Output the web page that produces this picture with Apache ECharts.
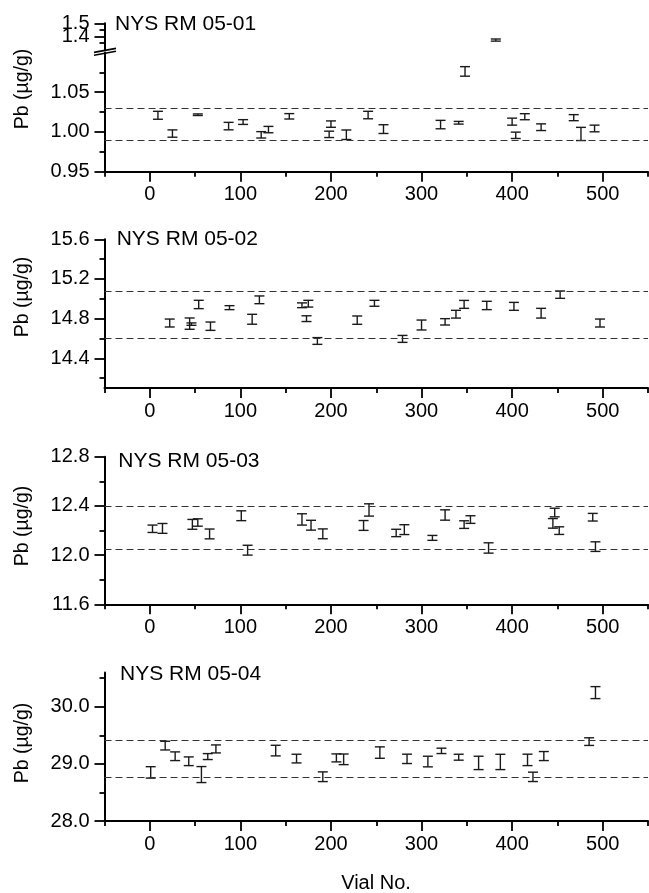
<!DOCTYPE html>
<html lang="en">
<head>
    <meta charset="UTF-8">
    <title>Pb in NYS RM 05 vials</title>
    <style>
        *{
            margin: 0;
            padding: 0;
        }
        #main{
            width: 649px;
            height: 893px;
            background: #fff;
        }
    </style>
</head>
<body>
<div id="main"></div>

<script src="https://cdn.jsdelivr.net/npm/echarts@6.0.0/dist/echarts.min.js"></script>
<script>
    // vial number axis
    let xMin = -50, xMax = 550;
    let xMajor = [0, 100, 200, 300, 400, 500];
    let xMinor = [-50, 50, 150, 250, 350, 450, 550];

    // NYS RM 05-01
    let vial1 = [9, 25, 53, 87, 103, 123, 131, 154, 200, 198, 217, 241, 258, 321, 341, 348, 382, 400, 404, 414, 432, 468, 476, 491];
    let pb1 = [1.021, 0.998, 1.0217, 1.0074, 1.0125, 0.9964, 1.003, 1.0197, 1.0099, 0.997, 0.9965, 1.0213, 1.0036, 1.0093, 1.0116, 1.0762, 1.373, 1.013, 0.9958, 1.0192, 1.006, 1.018, 0.9975, 1.0044];
    let sd1 = [0.005, 0.0046, 0.001, 0.0047, 0.003, 0.004, 0.004, 0.0034, 0.004, 0.004, 0.006, 0.0047, 0.0055, 0.0053, 0.0017, 0.006, 0.008, 0.0044, 0.004, 0.0038, 0.0042, 0.0038, 0.0083, 0.0042];
    let limits1 = [0.991, 1.026];
    let yLabels1 = ['0.95', '1.00', '1.05', '1.4', '1.5'];
    let yMinor1 = [0.975, 1.025, 1.075, 1.35, 1.45];

    // NYS RM 05-02
    let vial2 = [22, 44, 46, 54, 67, 88, 113, 121, 168, 175, 173, 185, 229, 248, 279, 300, 326, 338, 347, 372, 402, 432, 453, 497];
    let pb2 = [14.756, 14.75, 14.745, 14.943, 14.724, 14.911, 14.794, 14.99, 14.935, 14.951, 14.80, 14.575, 14.785, 14.955, 14.596, 14.736, 14.768, 14.845, 14.944, 14.933, 14.924, 14.855, 15.042, 14.756];
    let sd2 = [0.04, 0.057, 0.012, 0.042, 0.042, 0.02, 0.05, 0.039, 0.024, 0.034, 0.029, 0.034, 0.042, 0.03, 0.035, 0.05, 0.032, 0.039, 0.04, 0.042, 0.04, 0.049, 0.037, 0.04];
    let limits2 = [14.602, 15.079];
    let yLabels2 = ['14.4', '14.8', '15.2', '15.6'];
    let yMinor2 = [14.2, 14.6, 15.0, 15.4];

    // NYS RM 05-03
    let vial3 = [3, 14, 47, 53, 66, 101, 108, 168, 178, 191, 236, 242, 272, 281, 312, 326, 347, 354, 374, 445, 447, 452, 489, 492];
    let pb3 = [12.214, 12.217, 12.25, 12.265, 12.172, 12.32, 12.04, 12.29, 12.243, 12.173, 12.241, 12.367, 12.18, 12.207, 12.14, 12.326, 12.248, 12.289, 12.058, 12.258, 12.346, 12.199, 12.308, 12.069];
    let sd3 = [0.03, 0.04, 0.04, 0.03, 0.04, 0.04, 0.04, 0.046, 0.04, 0.04, 0.04, 0.05, 0.03, 0.04, 0.02, 0.042, 0.031, 0.031, 0.042, 0.039, 0.035, 0.031, 0.031, 0.039];
    let limits3 = [12.055, 12.402];
    let yLabels3 = ['11.6', '12.0', '12.4', '12.8'];
    let yMinor3 = [11.8, 12.2, 12.6];

    // NYS RM 05-04
    let vial4 = [1, 17, 28, 43, 57, 64, 73, 139, 162, 191, 206, 214, 254, 284, 307, 322, 341, 363, 387, 417, 423, 435, 485, 492];
    let pb4 = [28.851, 29.32, 29.134, 29.046, 28.813, 29.128, 29.262, 29.233, 29.093, 28.775, 29.105, 29.08, 29.198, 29.088, 29.041, 29.228, 29.117, 29.017, 29.034, 29.07, 28.773, 29.137, 29.39, 30.248];
    let sd4 = [0.1, 0.076, 0.076, 0.076, 0.14, 0.052, 0.07, 0.093, 0.076, 0.085, 0.07, 0.093, 0.1, 0.082, 0.093, 0.047, 0.052, 0.117, 0.134, 0.1, 0.082, 0.079, 0.067, 0.105];
    let limits4 = [28.765, 29.405];
    let yLabels4 = ['28.0', '29.0', '30.0'];
    let yMinor4 = [28.5, 29.5, 30.5];

    let font = 'Liberation Sans';
    let gridLeft = 104.5, gridRight = 1;

    // one entry per plot box; panel 1 is split by the axis break
    let boxes = [
        {top: 23.3, height: 26.4, min: 1.3, max: 1.5, vial: vial1, pb: pb1, sd: sd1, limits: [], labels: yLabels1, minor: yMinor1, showX: false},
        {top: 52.5, height: 119.2, min: 0.95, max: 1.1, vial: vial1, pb: pb1, sd: sd1, limits: limits1, labels: yLabels1, minor: yMinor1, showX: true},
        {top: 239.3, height: 148.8, min: 14.1, max: 15.6, vial: vial2, pb: pb2, sd: sd2, limits: limits2, labels: yLabels2, minor: yMinor2, showX: true},
        {top: 456.7, height: 147.6, min: 11.6, max: 12.8, vial: vial3, pb: pb3, sd: sd3, limits: limits3, labels: yLabels3, minor: yMinor3, showX: true},
        {top: 672.5, height: 148.5, min: 28.0, max: 30.6, vial: vial4, pb: pb4, sd: sd4, limits: limits4, labels: yLabels4, minor: yMinor4, showX: true}
    ];

    function renderBar(params, api) {
        let x = api.value(0), y = api.value(1), e = api.value(2);
        let hi = api.coord([x, y + e]);
        let lo = api.coord([x, y - e]);
        let style = {stroke: '#1a1a1a', lineWidth: 1.4};
        return {
            type: 'group',
            children: [
                {type: 'line', shape: {x1: hi[0] - 5, y1: hi[1], x2: hi[0] + 5, y2: hi[1]}, style: style},
                {type: 'line', shape: {x1: lo[0] - 5, y1: lo[1], x2: lo[0] + 5, y2: lo[1]}, style: style},
                {type: 'line', shape: {x1: hi[0], y1: hi[1], x2: lo[0], y2: lo[1]}, style: style}
            ]
        };
    }

    let grid = [], xAxis = [], yAxis = [], series = [];

    for (let i = 0; i < boxes.length; i++) {
        let b = boxes[i];
        let inRange = function (v) { return v >= b.min - 1e-9 && v <= b.max + 1e-9; };
        let majors = b.labels.map(Number).filter(inRange);
        let minors = b.minor.filter(inRange);
        let labels = b.labels;
        // every other label goes on the second axis so close labels are not dropped
        let labA = majors.filter(function (v, k) { return k % 2 === 0; });
        let labB = majors.filter(function (v, k) { return k % 2 === 1; });
        let fmt = function (v) {
            for (let k = 0; k < labels.length; k++) {
                if (Math.abs(Number(labels[k]) - v) < 1e-6) return labels[k];
            }
            return '';
        };
        let yLabel = function (vals) {
            return {customValues: vals, color: '#000', fontFamily: font, fontSize: 20, margin: 15, formatter: fmt};
        };

        grid.push({left: gridLeft, right: gridRight, top: b.top, height: b.height, outerBoundsMode: 'none'});

        xAxis.push({
            type: 'value', gridIndex: i, min: xMin, max: xMax, position: 'bottom', show: b.showX,
            axisLine: {onZero: false, lineStyle: {color: '#000', width: 2}},
            axisTick: {customValues: xMajor, length: 10, lineStyle: {color: '#000', width: 1.8}},
            axisLabel: {customValues: xMajor, color: '#000', fontFamily: font, fontSize: 20, margin: 13},
            splitLine: {show: false}
        });
        xAxis.push({
            type: 'value', gridIndex: i, min: xMin, max: xMax, position: 'bottom', show: b.showX,
            axisLine: {show: false, onZero: false},
            axisTick: {customValues: xMinor, length: 5, lineStyle: {color: '#000', width: 1.8}},
            axisLabel: {show: false},
            splitLine: {show: false}
        });

        yAxis.push({
            type: 'value', gridIndex: i, min: b.min, max: b.max, position: 'left',
            axisLine: {onZero: false, lineStyle: {color: '#000', width: 2}},
            axisTick: {customValues: majors, length: 10, lineStyle: {color: '#000', width: 1.8}},
            axisLabel: yLabel(labA),
            splitLine: {show: false}
        });
        yAxis.push({
            type: 'value', gridIndex: i, min: b.min, max: b.max, position: 'left',
            axisLine: {show: false, onZero: false},
            axisTick: {customValues: minors, length: 5, lineStyle: {color: '#000', width: 1.8}},
            axisLabel: labB.length ? yLabel(labB) : {show: false},
            splitLine: {show: false}
        });

        let data = [];
        for (let k = 0; k < b.vial.length; k++) {
            if (inRange(b.pb[k])) data.push([b.vial[k], b.pb[k], b.sd[k]]);
        }
        series.push({
            type: 'custom', xAxisIndex: 2 * i, yAxisIndex: 2 * i,
            renderItem: renderBar, data: data, silent: true
        });
        if (b.limits.length) {
            series.push({
                type: 'line', xAxisIndex: 2 * i, yAxisIndex: 2 * i, data: [], silent: true,
                markLine: {
                    symbol: 'none', silent: true, label: {show: false},
                    lineStyle: {color: '#333', width: 1, type: [7, 4]},
                    data: b.limits.map(function (v) { return {yAxis: v}; })
                }
            });
        }
    }

    let titles = [
        {text: 'NYS RM 05-01', x: 115, y: 24.2},
        {text: 'NYS RM 05-02', x: 116.7, y: 238.9},
        {text: 'NYS RM 05-03', x: 118.3, y: 461.7},
        {text: 'NYS RM 05-04', x: 120, y: 674.2}
    ];
    let nameY = [89, 297, 526, 743];

    let graphic = [];
    titles.forEach(function (t) {
        graphic.push({type: 'text', x: t.x, y: t.y, style: {text: t.text, fontFamily: font, fontSize: 21, fill: '#000', verticalAlign: 'middle'}});
    });
    nameY.forEach(function (y) {
        graphic.push({type: 'text', x: 23, y: y, rotation: Math.PI / 2, style: {text: 'Pb (µg/g)', fontFamily: font, fontSize: 19.5, fill: '#000', align: 'center', verticalAlign: 'middle'}});
    });
    graphic.push({type: 'text', x: 376, y: 883, style: {text: 'Vial No.', fontFamily: font, fontSize: 20, fill: '#000', align: 'center', verticalAlign: 'middle'}});
    // axis break mark on panel 1
    graphic.push({type: 'line', shape: {x1: 94, y1: 52.4, x2: 116, y2: 48.4}, style: {stroke: '#000', lineWidth: 1.6}});
    graphic.push({type: 'line', shape: {x1: 94, y1: 55.2, x2: 116, y2: 51.2}, style: {stroke: '#000', lineWidth: 1.6}});

    let myChart = echarts.init(document.getElementById('main'));
    myChart.setOption({
        animation: false,
        backgroundColor: '#fff',
        grid: grid,
        xAxis: xAxis,
        yAxis: yAxis,
        series: series,
        graphic: graphic
    });
</script>
</body>
</html>
